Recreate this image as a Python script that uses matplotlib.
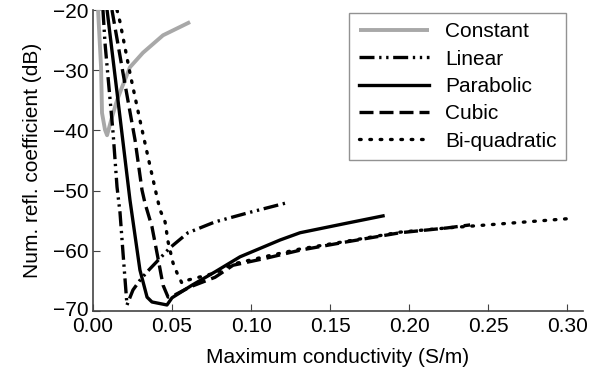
import matplotlib
matplotlib.use("Agg")
import matplotlib.pyplot as plt
import matplotlib.transforms as mtransforms

plt.rcParams['font.family'] = ['Liberation Sans', 'DejaVu Sans']

# data (x: S/m, y: dB)
constX = [0.0032, 0.0051, 0.0057, 0.0076, 0.0089, 0.012, 0.0152, 0.0184, 0.0234, 0.0316, 0.0443, 0.0614]
constY = [-20.0, -29.5, -37.1, -39.9, -40.8, -37.8, -35.0, -32.8, -29.5, -27.1, -24.2, -22.0]

linX = [0.0063, 0.0076, 0.0095, 0.0127, 0.0152, 0.0171, 0.019, 0.0215, 0.0253, 0.0297, 0.0342, 0.0487, 0.0601, 0.0772, 0.0994, 0.1215]
linY = [-20.0, -25.5, -31.1, -40.4, -49.4, -53.7, -60.4, -69.0, -66.5, -64.9, -63.5, -59.5, -57.0, -55.2, -53.6, -52.1]

parX = [0.0089, 0.0158, 0.0234, 0.0297, 0.0342, 0.0373, 0.0468, 0.050, 0.0627, 0.0772, 0.093, 0.1184, 0.131, 0.1608, 0.1835]
parY = [-20.0, -35.0, -51.6, -63.2, -67.7, -68.5, -69.0, -67.8, -65.7, -63.5, -61.0, -58.2, -57.0, -55.4, -54.2]

cubX = [0.012, 0.019, 0.0266, 0.031, 0.0329, 0.0373, 0.0411, 0.0443, 0.0475, 0.052, 0.0614, 0.0772, 0.0886, 0.110, 0.131, 0.1608, 0.1943, 0.224, 0.2386]
cubY = [-20.0, -30.5, -41.6, -49.9, -52.1, -56.0, -61.2, -65.7, -67.7, -67.3, -66.0, -64.4, -62.4, -61.2, -59.9, -58.5, -57.0, -56.2, -55.7]

biqX = [0.0152, 0.0171, 0.0234, 0.0297, 0.0348, 0.0405, 0.0424, 0.0456, 0.0475, 0.0506, 0.0532, 0.0563, 0.0595, 0.0772, 0.0886, 0.110, 0.131, 0.1608, 0.1943, 0.224, 0.2494, 0.3038]
biqY = [-20.0, -22.0, -30.5, -38.3, -44.4, -51.1, -53.2, -55.2, -58.5, -62.0, -63.7, -65.4, -64.9, -63.7, -62.2, -60.9, -59.7, -58.4, -56.9, -56.2, -55.7, -54.6]

fig = plt.figure(figsize=(6.1, 3.8), dpi=100)
ax = fig.add_axes([93/610, 1 - 311/380, 490/610, 301/380])

lw = 2.4
ax.plot(constX, constY, color='#a8a8a8', lw=2.8, label='Constant', solid_capstyle='butt')
ax.plot(linX, linY, color='black', lw=lw, ls=(0, (4.5, 1.4, 0.7, 1.4, 0.7, 1.4)), label='Linear')
ax.plot(parX, parY, color='black', lw=lw, label='Parabolic')
ax.plot(cubX, cubY, color='black', lw=lw, ls=(0, (4.2, 1.8)), label='Cubic')
ax.plot(biqX, biqY, color='black', lw=lw, ls=(0, (0.5, 2.6)), dash_capstyle='round', label='Bi-quadratic')

ax.set_xlim(0, 0.31)
ax.set_ylim(-70, -20)
ax.set_xticks([0.0, 0.05, 0.10, 0.15, 0.20, 0.25, 0.30])
ax.set_xticklabels(['0.00', '0.05', '0.10', '0.15', '0.20', '0.25', '0.30'])
ax.set_yticks([-70, -60, -50, -40, -30, -20])
ax.tick_params(direction='in', labelsize=15, length=5, color='#444444', pad=3)
ax.tick_params(axis='x', pad=4)
for s in ['top', 'right']:
    ax.spines[s].set_visible(False)
for s in ['left', 'bottom']:
    ax.spines[s].set_color('#444444')
    ax.spines[s].set_linewidth(1.2)

# nudge the -70 label up a little so it doesn't sit on top of 0.00
lab = ax.get_yticklabels()[0]
lab.set_transform(lab.get_transform() + mtransforms.ScaledTranslation(0, 3/100, fig.dpi_scale_trans))

ax.set_xlabel('Maximum conductivity (S/m)', fontsize=15, labelpad=9)
ax.set_ylabel('Num. refl. coefficient (dB)', fontsize=15, labelpad=8)

leg = ax.legend(loc='upper right', bbox_to_anchor=(0.965, 0.99), fontsize=15,
                handlelength=3.4, frameon=True, fancybox=False, edgecolor='#777777',
                borderpad=0.45, labelspacing=0.4, handletextpad=0.75, borderaxespad=0)
leg.get_frame().set_linewidth(1.0)

fig.savefig('out.png', dpi=100)
